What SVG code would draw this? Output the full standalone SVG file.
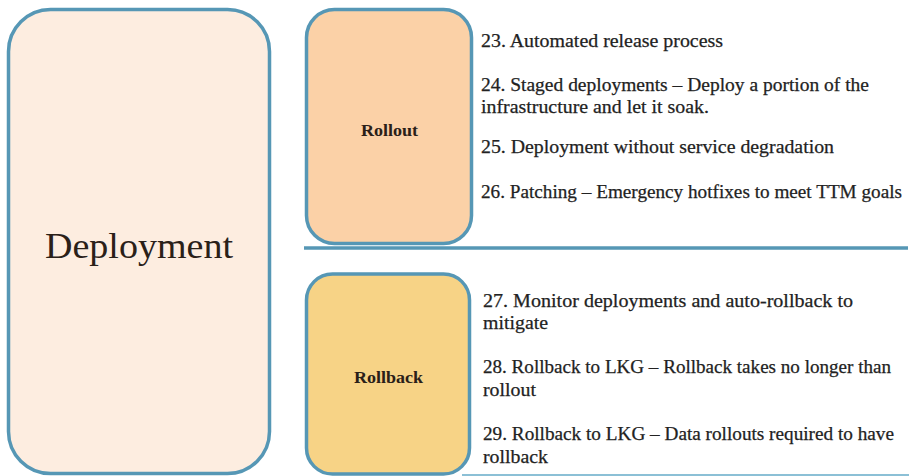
<svg xmlns="http://www.w3.org/2000/svg" width="909" height="476" viewBox="0 0 909 476">
<style>
.box{stroke:#5697b5;stroke-width:3.5}
.lbl{font-family:"Liberation Serif","DejaVu Serif",serif;fill:#2a2018;text-anchor:middle}
.item{font-family:"Liberation Serif","DejaVu Serif",serif;font-size:19px;fill:#222222;stroke:#222222;stroke-width:0.25}
.sep{stroke:#5697b5;stroke-width:3.5}
</style>
<rect width="909" height="476" fill="#ffffff"/>
<g id="deployment">
<rect class="box" x="8.5" y="9.5" width="261" height="464" rx="42" fill="#fdede0"/>
<text class="lbl" x="139" y="258" font-size="35" textLength="188" lengthAdjust="spacingAndGlyphs">Deployment</text>
</g>
<g id="rollout">
<rect class="box" x="306.5" y="9.5" width="165" height="234" rx="28" fill="#fbd1a7"/>
<text class="lbl" x="389.5" y="136" font-size="17" font-weight="bold" textLength="57" lengthAdjust="spacingAndGlyphs">Rollout</text>
</g>
<g id="rollback">
<rect class="box" x="306.5" y="274" width="163" height="200" rx="26" fill="#f7d386"/>
<text class="lbl" x="388.5" y="383" font-size="17" font-weight="bold" textLength="69" lengthAdjust="spacingAndGlyphs">Rollback</text>
</g>
<g id="connectors">
<line class="sep" x1="304" y1="248" x2="908" y2="248"/>
<line x1="462" y1="475" x2="909" y2="475" stroke="#8cc0d6" stroke-width="2"/>
</g>
<g id="rollout-items">
<text class="item" x="481" y="47" textLength="242" lengthAdjust="spacingAndGlyphs">23. Automated release process</text>
<text class="item" x="481" y="91" textLength="388" lengthAdjust="spacingAndGlyphs">24. Staged deployments – Deploy a portion of the</text>
<text class="item" x="481" y="113" textLength="228" lengthAdjust="spacingAndGlyphs">infrastructure and let it soak.</text>
<text class="item" x="481" y="153" textLength="353" lengthAdjust="spacingAndGlyphs">25. Deployment without service degradation</text>
<text class="item" x="481" y="198" textLength="421" lengthAdjust="spacingAndGlyphs">26. Patching – Emergency hotfixes to meet TTM goals</text>
</g>
<g id="rollback-items">
<text class="item" x="483" y="307" textLength="370" lengthAdjust="spacingAndGlyphs">27. Monitor deployments  and auto-rollback to</text>
<text class="item" x="483" y="329" textLength="65" lengthAdjust="spacingAndGlyphs">mitigate</text>
<text class="item" x="483" y="373" textLength="408" lengthAdjust="spacingAndGlyphs">28. Rollback to LKG – Rollback takes no longer than</text>
<text class="item" x="483" y="396" textLength="53" lengthAdjust="spacingAndGlyphs">rollout</text>
<text class="item" x="483" y="440" textLength="411" lengthAdjust="spacingAndGlyphs">29. Rollback to LKG – Data rollouts required to have</text>
<text class="item" x="483" y="463" textLength="65" lengthAdjust="spacingAndGlyphs">rollback</text>
</g>
</svg>
